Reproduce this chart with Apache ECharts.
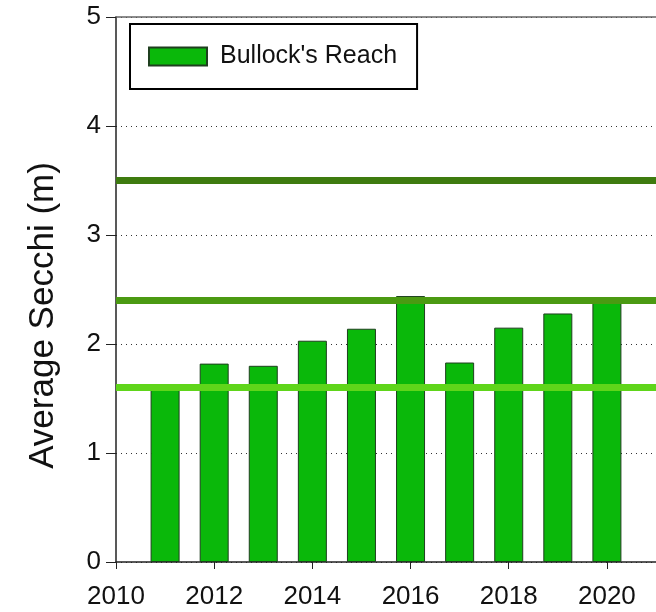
<!DOCTYPE html>
<html>
<head>
<meta charset="utf-8">
<script src="https://cdn.jsdelivr.net/npm/echarts@6/dist/echarts.min.js"></script>
<style>
html,body{margin:0;padding:0;background:#fff;}
#chart{width:656px;height:612px;}
</style>
</head>
<body>
<div id="chart"></div>
<script>
const years = [2011, 2012, 2013, 2014, 2015, 2016, 2017, 2018, 2019, 2020];
const secchi = [1.63, 1.82, 1.80, 2.03, 2.14, 2.44, 1.83, 2.15, 2.28, 2.43];
const seriesName = "Bullock's Reach";
const thresholds = [3.5, 2.4, 1.6];
const thresholdColors = ['#3e7b0f', '#4b9a12', '#5fd51a'];
const yTicks = [0, 1, 2, 3, 4, 5];
const xTicks = [2010, 2012, 2014, 2016, 2018, 2020];
const xRange = [2010, 2021];

const chart = echarts.init(document.getElementById('chart'));
const regular = '"Liberation Sans", Arial, sans-serif';

const markData = thresholds.map((v, i) => [
  {coord: [xRange[0], v], lineStyle: {color: thresholdColors[i], width: 7, type: 'solid'}},
  {coord: [xRange[1], v], lineStyle: {color: thresholdColors[i], width: 7, type: 'solid'}}
]);

chart.setOption({
  animation: false,
  backgroundColor: '#fff',
  grid: {left: 116, top: 17, right: -8, bottom: 50, containLabel: false},
  legend: {
    show: true,
    left: 130, top: 24,
    orient: 'horizontal',
    padding: [20, 20, 20, 18],
    borderColor: '#000', borderWidth: 2,
    backgroundColor: '#fff',
    itemWidth: 58, itemHeight: 18,
    icon: 'rect',
    textStyle: {fontFamily: regular, fontSize: 25, color: '#111', padding: [0, 0, 0, 8]},
    data: [seriesName]
  },
  xAxis: [{
    type: 'value',
    min: xRange[0], max: xRange[1], interval: 2,
    axisLine: {show: true, lineStyle: {color: '#222', width: 1.5}},
    axisTick: {show: true, length: 7, lineStyle: {color: '#222'}, customValues: xTicks},
    axisLabel: {show: true, fontFamily: regular, fontSize: 26, color: '#111', margin: 22,
      customValues: xTicks, formatter: v => String(v)},
    splitLine: {show: false}
  }, {
    type: 'value', position: 'top',
    min: xRange[0], max: xRange[1],
    axisLine: {show: true, lineStyle: {color: '#666', width: 1.5}},
    axisTick: {show: false}, axisLabel: {show: false}, splitLine: {show: false}
  }],
  yAxis: {
    type: 'value', min: 0, max: 5, interval: 1,
    name: 'Average Secchi (m)',
    nameLocation: 'middle', nameRotate: 90, nameGap: 55,
    nameTextStyle: {fontFamily: regular, fontSize: 35, color: '#111', padding: [0, 52, 0, 0]},
    axisLine: {show: true, lineStyle: {color: '#222', width: 1.5}},
    axisTick: {show: true, inside: false, length: 10, lineStyle: {color: '#222'}},
    axisLabel: {fontFamily: regular, fontSize: 26, color: '#111', margin: 15,
      formatter: v => yTicks.includes(v) ? String(v) : ''},
    splitLine: {show: true, lineStyle: {color: '#333', type: [1, 4], width: 1}}
  },
  series: [{
    name: seriesName,
    type: 'bar',
    barWidth: 29,
    data: years.map((y, i) => [y, secchi[i]]),
    itemStyle: {color: '#0ab80a', borderColor: '#1f3f1f', borderWidth: 1},
    markLine: {
      silent: true, symbol: ['none', 'none'], label: {show: false},
      data: markData
    },
    z: 2
  }]
});
</script>
</body>
</html>
